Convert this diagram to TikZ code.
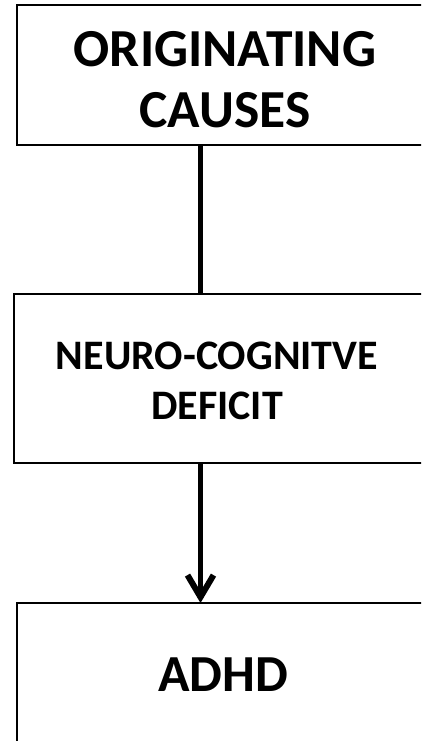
\documentclass[tikz,border=0pt]{standalone}
\usepackage{fontspec}
\setmainfont{Carlito}
\usetikzlibrary{arrows.meta}
\begin{document}
\begin{tikzpicture}[x=1pt,y=-1pt,
  box/.style={draw=black,line width=2pt,inner sep=0pt},
  label/.style={font=\bfseries,align=center,inner sep=0pt},
  link/.style={line width=5pt}]
\useasboundingbox (0,0) rectangle (421,741);
\begin{scope}
\clip (0,0) rectangle (421,741);
% the three boxes, running past the right edge
\draw[box] (17,5) rectangle (440,145);
\draw[box] (14,294) rectangle (440,463);
\draw[box] (17,603) rectangle (440,760);
\end{scope}
\node[label,font=\fontsize{53.5}{61}\selectfont\bfseries] (causes) at (225,80) {ORIGINATING\\CAUSES};
\node[label,font=\fontsize{42}{50}\selectfont\bfseries] (deficit) at (217,381) {NEURO-COGNITVE\\DEFICIT};
\node[label,font=\fontsize{52}{60}\selectfont\bfseries] (adhd) at (223,675) {ADHD};
\coordinate (c1) at (200.5,145);
\coordinate (d1) at (200.5,294);
\coordinate (d2) at (200.5,463);
\coordinate (a1) at (200.5,603);
\draw[link] (c1) -- (d1);
\draw[link,-{Straight Barb[length=22pt,width=26pt,line width=6pt]}] (d2) -- (a1);
\end{tikzpicture}
\end{document}
